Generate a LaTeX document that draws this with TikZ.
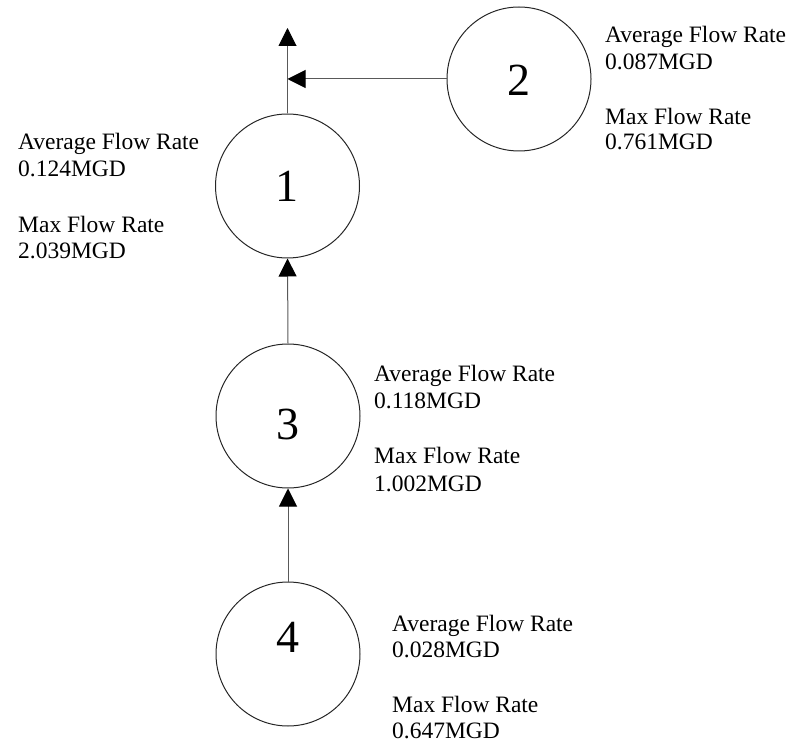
\documentclass[tikz,border=0pt]{standalone}
\usepackage{fontspec}
\setmainfont{Liberation Serif}
\usetikzlibrary{arrows.meta}
\begin{document}
\begin{tikzpicture}[x=1pt,y=-1pt,
  station/.style={circle,draw=black!85,line width=1pt,minimum size=144pt,inner sep=0pt},
  digit/.style={anchor=base,inner sep=0pt,font=\fontsize{46}{50}\selectfont},
  info/.style={anchor=base west,inner sep=0pt,font=\fontsize{23.5}{27}\selectfont},
  flow/.style={draw=black!65,line width=1pt,-{Triangle[length=18pt,width=18pt,color=black]}},
  pipe/.style={draw=black!65,line width=1pt}]
\useasboundingbox (0,0) rectangle (795,743);
% stations
\node[station] (c1) at (287.5,186) {};
\node[station] (c2) at (519,79) {};
\node[station] (c3) at (288,416) {};
\node[station] (c4) at (288,654) {};
% digits
\node[digit] (d1) at (287,202) {1};
\node[digit] (d2) at (518.5,96) {2};
\node[digit] (d3) at (287.5,439) {3};
\node[digit] (d4) at (288,652) {4};
% connectors
\coordinate (top) at (287.5,28);
\draw[flow] (c1.north) -- (top);
\draw[flow] (c2.west) -- (c2.west -| c1.north);
\draw[flow] (c3.north) -- (c1.south);
\draw[flow] (c4.north) -- (c3.south);
% labels station 1
\node[info] (a1) at (18,150) {Average Flow Rate};
\node[info] (b1) at (18,177) {0.124MGD};
\node[info] (m1) at (18,233) {Max Flow Rate};
\node[info] (n1) at (18,259) {2.039MGD};
% labels station 2
\node[info] (a2) at (605,43) {Average Flow Rate};
\node[info] (b2) at (605,70) {0.087MGD};
\node[info] (m2) at (605,125) {Max Flow Rate};
\node[info] (n2) at (605,150) {0.761MGD};
% labels station 3
\node[info] (a3) at (374,381) {Average Flow Rate};
\node[info] (b3) at (374,408) {0.118MGD};
\node[info] (m3) at (374,463) {Max Flow Rate};
\node[info] (n3) at (374,491) {1.002MGD};
% labels station 4
\node[info] (a4) at (392,631) {Average Flow Rate};
\node[info] (b4) at (392,657) {0.028MGD};
\node[info] (m4) at (392,712) {Max Flow Rate};
\node[info] (n4) at (392,738) {0.647MGD};
\end{tikzpicture}
\end{document}
